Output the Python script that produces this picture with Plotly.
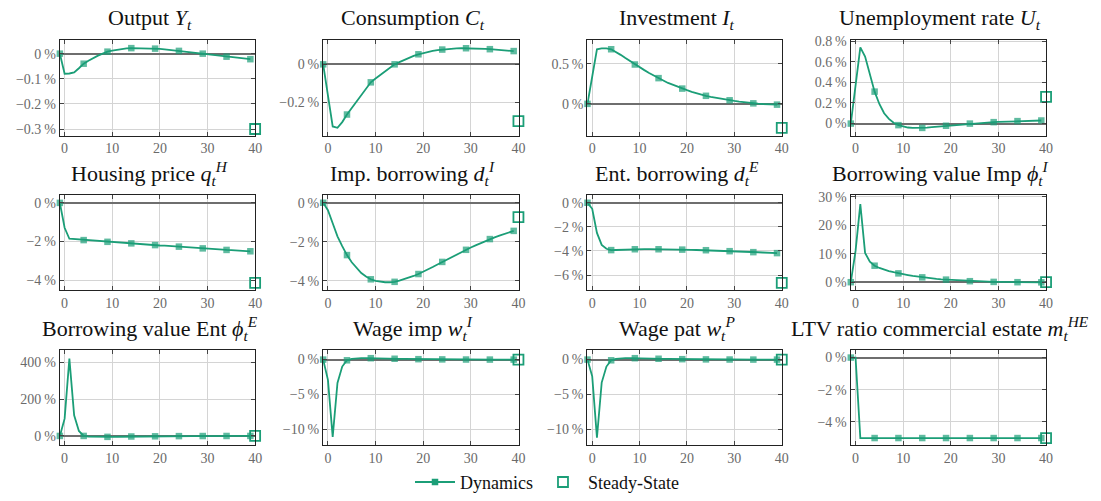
import plotly.graph_objects as go

# ---------------- data (percent deviations) ----------------
t = list(range(-1, 40))
t_ss = [40]

output = [0, -0.080, -0.079, -0.075, -0.058, -0.040, -0.028, -0.017, -0.008, 0.000,
          0.008, 0.012, 0.016, 0.019, 0.021, 0.022, 0.022, 0.022, 0.022, 0.021,
          0.020, 0.019, 0.017, 0.015, 0.013, 0.011, 0.009, 0.007, 0.005, 0.002,
          0.000, -0.002, -0.004, -0.007, -0.009, -0.012, -0.014, -0.016, -0.018, -0.020, -0.022]
output_ss = [-0.30]

consumption = [0, -0.165, -0.328, -0.335, -0.305, -0.265, -0.230, -0.195, -0.160, -0.127,
               -0.095, -0.075, -0.055, -0.035, -0.017, 0.000, 0.012, 0.024, 0.035, 0.045,
               0.053, 0.060, 0.066, 0.071, 0.075, 0.078, 0.081, 0.083, 0.084, 0.085,
               0.085, 0.085, 0.084, 0.083, 0.082, 0.080, 0.078, 0.076, 0.074, 0.072, 0.070]
consumption_ss = [-0.30]

investment = [0, 0.34, 0.68, 0.69, 0.69, 0.68, 0.65, 0.61, 0.57, 0.53,
              0.49, 0.455, 0.42, 0.385, 0.35, 0.32, 0.29, 0.26, 0.235, 0.21,
              0.19, 0.17, 0.15, 0.132, 0.115, 0.10, 0.088, 0.076, 0.064, 0.054,
              0.044, 0.036, 0.028, 0.020, 0.012, 0.006, 0.002, -0.002, -0.005, -0.008, -0.010]
investment_ss = [-0.30]

unemployment = [0, 0.37, 0.74, 0.65, 0.48, 0.31, 0.19, 0.10, 0.045, 0.008,
                -0.015, -0.030, -0.038, -0.042, -0.043, -0.042, -0.039, -0.035, -0.031, -0.026,
                -0.021, -0.017, -0.012, -0.008, -0.004, 0.000, 0.003, 0.006, 0.009, 0.012,
                0.014, 0.016, 0.018, 0.020, 0.022, 0.024, 0.025, 0.027, 0.028, 0.029, 0.030]
unemployment_ss = [0.26]

housing = [0, -1.29, -1.86, -1.88, -1.91, -1.93, -1.95, -1.97, -1.98, -2.00,
           -2.02, -2.04, -2.05, -2.07, -2.09, -2.10, -2.12, -2.14, -2.16, -2.17,
           -2.19, -2.21, -2.22, -2.24, -2.26, -2.27, -2.29, -2.31, -2.32, -2.34,
           -2.36, -2.37, -2.39, -2.41, -2.42, -2.44, -2.45, -2.47, -2.48, -2.50, -2.51]
housing_ss = [-4.15]

imp_borrowing = [0, -0.38, -1.05, -1.72, -2.22, -2.68, -3.05, -3.35, -3.60, -3.78,
                 -3.92, -4.00, -4.05, -4.07, -4.07, -4.05, -3.99, -3.92, -3.84, -3.75,
                 -3.65, -3.54, -3.42, -3.29, -3.16, -3.03, -2.90, -2.78, -2.65, -2.53,
                 -2.41, -2.29, -2.18, -2.07, -1.96, -1.86, -1.77, -1.68, -1.60, -1.52, -1.44]
imp_borrowing_ss = [-0.74]

ent_borrowing = [0, -0.50, -2.50, -3.50, -3.82, -3.93, -3.92, -3.90, -3.88, -3.87,
                 -3.86, -3.86, -3.85, -3.85, -3.85, -3.86, -3.86, -3.87, -3.87, -3.88,
                 -3.89, -3.90, -3.91, -3.92, -3.93, -3.94, -3.96, -3.97, -3.99, -4.00,
                 -4.02, -4.03, -4.05, -4.06, -4.08, -4.10, -4.11, -4.13, -4.15, -4.16, -4.18]
ent_borrowing_ss = [-6.66]

phi_imp = [0, 11.0, 27.5, 10.3, 7.2, 5.8, 5.0, 4.4, 3.9, 3.5,
           3.1, 2.8, 2.5, 2.2, 1.95, 1.7, 1.5, 1.3, 1.15, 1.0,
           0.9, 0.75, 0.65, 0.55, 0.45, 0.35, 0.30, 0.25, 0.20, 0.15,
           0.10, 0.08, 0.06, 0.04, 0.02, 0.0, -0.01, -0.02, -0.03, -0.04, -0.05]
phi_imp_ss = [0.0]

phi_ent = [0, 94, 421, 112, 27, 0, -3, -4, -5, -5,
           -5, -5, -4.5, -4, -3.5, -3, -2.8, -2.5, -2.3, -2.1,
           -2.0, -1.8, -1.6, -1.4, -1.2, -1.0, -0.9, -0.8, -0.7, -0.6,
           -0.5, -0.4, -0.35, -0.3, -0.25, -0.2, -0.15, -0.1, -0.1, -0.05, 0.0]
phi_ent_ss = [0.0]

wage_imp = [0, -2.9, -11.1, -3.35, -1.0, -0.1, 0.1, 0.2, 0.2, 0.2,
            0.2, 0.2, 0.18, 0.16, 0.14, 0.12, 0.10, 0.09, 0.08, 0.07,
            0.06, 0.05, 0.05, 0.04, 0.04, 0.03, 0.03, 0.02, 0.02, 0.02,
            0.01, 0.01, 0.01, 0.01, 0.0, 0.0, 0.0, 0.0, 0.0, 0.0, 0.0]
wage_imp_ss = [0.0]

wage_pat = [0, -2.4, -11.2, -3.3, -1.0, -0.1, 0.1, 0.2, 0.2, 0.2,
            0.2, 0.2, 0.18, 0.16, 0.14, 0.12, 0.10, 0.09, 0.08, 0.07,
            0.06, 0.05, 0.05, 0.04, 0.04, 0.03, 0.03, 0.02, 0.02, 0.02,
            0.01, 0.01, 0.01, 0.01, 0.0, 0.0, 0.0, 0.0, 0.0, 0.0, 0.0]
wage_pat_ss = [0.0]

ltv = [0, 0] + [-5.0] * 39
ltv_ss = [-5.0]

titles = [
    "Output <i>Y<sub>t</sub></i>",
    "Consumption <i>C<sub>t</sub></i>",
    "Investment <i>I<sub>t</sub></i>",
    "Unemployment rate <i>U<sub>t</sub></i>",
    "Housing price <i>q<sub>t</sub><sup>H</sup></i>",
    "Imp. borrowing <i>d<sub>t</sub><sup>I</sup></i>",
    "Ent. borrowing <i>d<sub>t</sub><sup>E</sup></i>",
    "Borrowing value Imp <i>\u03d5<sub>t</sub><sup>I</sup></i>",
    "Borrowing value Ent <i>\u03d5<sub>t</sub><sup>E</sup></i>",
    "Wage imp <i>w<sub>t</sub><sup>I</sup></i>",
    "Wage pat <i>w<sub>t</sub><sup>P</sup></i>",
    "LTV ratio commercial estate <i>m<sub>t</sub><sup>HE</sup></i>",
]
series = [output, consumption, investment, unemployment, housing, imp_borrowing,
          ent_borrowing, phi_imp, phi_ent, wage_imp, wage_pat, ltv]
steady = [output_ss, consumption_ss, investment_ss, unemployment_ss, housing_ss,
          imp_borrowing_ss, ent_borrowing_ss, phi_imp_ss, phi_ent_ss, wage_imp_ss,
          wage_pat_ss, ltv_ss]
y_ticks = [
    [0, -0.1, -0.2, -0.3],
    [0, -0.2],
    [0, 0.5],
    [0, 0.2, 0.4, 0.6, 0.8],
    [0, -2, -4],
    [0, -2, -4],
    [0, -2, -4, -6],
    [0, 10, 20, 30],
    [0, 200, 400],
    [0, -5, -10],
    [0, -5, -10],
    [0, -2, -4],
]
y_ranges = [
    [-0.326, 0.054], [-0.376, 0.128], [-0.395, 0.794], [-0.116, 0.81],
    [-4.54, 0.41], [-4.49, 0.40], [-7.28, 0.65], [-2.9, 30.7],
    [-51, 469], [-12.3, 1.4], [-12.3, 1.4], [-5.45, 0.48],
]
x_ticks = [0, 10, 20, 30, 40]


def pct_label(v):
    s = f"{abs(v):g}"
    return ("\u2212" if v < 0 else "") + s + "\u2009%"


# ---------------- layout geometry (pixels) ----------------
W, H = 1101, 501
cols = [(60, 257), (325, 522), (591, 787), (856, 1053)]
rows = [(35, 133), (194, 292), (353, 451)]

GREEN = "#1b9e77"
SERIF = "Liberation Serif"
TICKFONT = dict(family=SERIF, size=14, color="#6a6a6a")

fig = go.Figure()
annotations = []

for i in range(12):
    r, c = divmod(i, 4)
    (x0, x1), (y0, y1) = cols[c], rows[r]
    n = i + 1
    xa = "x" if n == 1 else f"x{n}"
    ya = "y" if n == 1 else f"y{n}"

    sizes = [6.5 if k % 5 == 0 else 0 for k in range(len(t))]
    fig.add_trace(go.Scatter(
        x=t, y=series[i], mode="lines+markers", xaxis=xa, yaxis=ya,
        line=dict(color=GREEN, width=1.8),
        marker=dict(symbol="square", size=sizes, color=GREEN, line=dict(width=0)),
        showlegend=False, cliponaxis=False, hoverinfo="skip",
    ))
    fig.add_trace(go.Scatter(
        x=t_ss, y=steady[i], mode="markers", xaxis=xa, yaxis=ya,
        marker=dict(symbol="square-open", size=10, color=GREEN, line=dict(width=1.8)),
        showlegend=False, cliponaxis=False, hoverinfo="skip",
    ))

    fig.layout["xaxis" if n == 1 else f"xaxis{n}"] = dict(
        domain=[x0 / W, x1 / W], anchor=ya, range=[-1.05, 40.05],
        tickmode="array", tickvals=x_ticks, ticktext=[str(v) for v in x_ticks],
        showgrid=True, gridcolor="#d4d4d4", gridwidth=1,
        zeroline=False, showline=True, linecolor="#222", linewidth=1, mirror="allticks",
        ticks="inside", ticklen=4, tickcolor="#444", tickfont=TICKFONT,
    )
    fig.layout["yaxis" if n == 1 else f"yaxis{n}"] = dict(
        domain=[1 - y1 / H, 1 - y0 / H], anchor=xa, range=y_ranges[i],
        tickmode="array", tickvals=y_ticks[i], ticktext=[pct_label(v) for v in y_ticks[i]],
        showgrid=True, gridcolor="#d4d4d4", gridwidth=1,
        zeroline=True, zerolinecolor="#6e6e6e", zerolinewidth=1.5,
        showline=True, linecolor="#222", linewidth=1, mirror="allticks",
        ticks="inside", ticklen=4, tickcolor="#444", tickfont=TICKFONT,
    )
    annotations.append(dict(
        text=titles[i], xref="paper", yref="paper",
        x=((x0 + x1) / 2 - 8) / W, y=1 - (y0 - 22) / H,
        xanchor="center", yanchor="middle", showarrow=False,
        font=dict(family=SERIF, size=22, color="#111"),
    ))

# legend-only traces
fig.add_trace(go.Scatter(
    x=[None], y=[None], mode="lines+markers", name="Dynamics",
    line=dict(color=GREEN, width=1.8),
    marker=dict(symbol="square", size=6.5, color=GREEN),
))
fig.add_trace(go.Scatter(
    x=[None], y=[None], mode="markers", name="Steady-State",
    marker=dict(symbol="square-open", size=10, color=GREEN, line=dict(width=1.8)),
))

fig.update_layout(
    width=W, height=H, margin=dict(l=0, r=0, t=0, b=0),
    paper_bgcolor="white", plot_bgcolor="white",
    font=dict(family=SERIF, size=14, color="#222"),
    annotations=annotations, hovermode=False,
    legend=dict(orientation="h", x=0.5, xanchor="center", y=1 - 489 / H, yanchor="middle",
                itemwidth=40, font=dict(family=SERIF, size=18, color="#111"),
                bgcolor="rgba(0,0,0,0)"),
)

fig.write_html("out.html", config={"displayModeBar": False},
               post_script="document.body.style.margin='0';document.body.style.padding='0';")
